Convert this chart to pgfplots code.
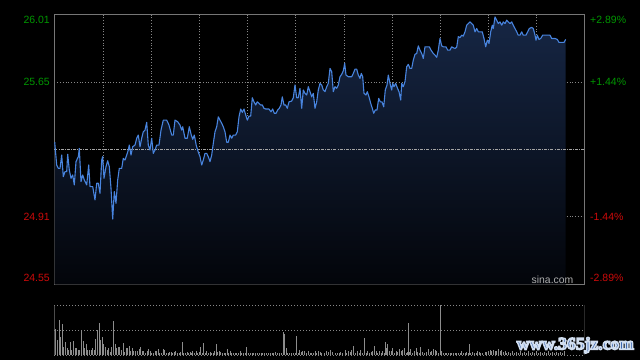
\documentclass[border=0pt]{standalone}
\usepackage{pgfplots}
\pgfplotsset{compat=1.18}
\usepackage{pgfplotstable}
\usepgfplotslibrary{fillbetween}
\usepackage{fontspec}
\setmainfont{Liberation Sans}
\newfontfamily\wmfont{Liberation Serif}

\definecolor{bordergray}{RGB}{118,118,118}
\definecolor{gridgray}{RGB}{135,135,135}
\definecolor{dashgray}{RGB}{165,165,165}
\definecolor{upgreen}{RGB}{0,150,0}
\definecolor{downred}{RGB}{205,10,10}
\definecolor{linecol}{RGB}{72,132,222}
\definecolor{filltop}{RGB}{22,38,68}
\definecolor{fillbot}{RGB}{3,5,10}
\definecolor{volgray}{RGB}{140,140,140}
\definecolor{sinagray}{RGB}{175,175,175}
\definecolor{wmblue}{RGB}{40,88,170}

\pgfplotstableread{
x y
54.7 25.318
56.7 25.195
58.3 25.177
60.0 25.177
61.7 25.249
63.3 25.132
65.0 25.159
66.7 25.159
67.7 25.253
69.3 25.168
71.0 25.123
72.7 25.141
74.3 25.087
76.0 25.213
78.3 25.240
79.3 25.285
81.0 25.105
82.7 25.141
84.3 25.114
86.7 25.087
88.7 25.195
90.0 25.078
92.7 25.078
95.0 25.006
96.7 25.096
98.3 25.096
100.0 25.042
101.7 25.222
102.7 25.240
104.0 25.123
106.0 25.186
107.7 25.218
109.3 25.186
111.0 25.069
112.7 24.902
114.3 25.051
116.0 24.988
117.7 25.114
119.3 25.177
121.7 25.177
123.3 25.231
125.0 25.222
126.7 25.249
128.3 25.276
129.3 25.303
131.0 25.249
132.7 25.294
135.0 25.303
136.7 25.340
138.3 25.357
140.0 25.294
141.7 25.340
143.3 25.375
145.0 25.384
146.7 25.426
148.3 25.303
150.0 25.276
151.7 25.340
153.3 25.258
155.0 25.276
156.7 25.303
159.0 25.303
161.0 25.384
163.3 25.438
166.7 25.438
169.0 25.411
171.7 25.357
173.3 25.357
175.0 25.438
177.7 25.429
180.0 25.411
181.7 25.384
182.7 25.402
185.0 25.340
187.3 25.340
189.3 25.402
191.3 25.357
192.7 25.334
194.3 25.357
196.3 25.300
198.3 25.265
200.0 25.240
201.7 25.195
203.3 25.222
205.0 25.258
206.7 25.258
208.3 25.240
210.0 25.213
211.7 25.249
213.3 25.312
215.0 25.375
216.7 25.402
218.3 25.456
220.0 25.438
221.7 25.421
223.3 25.402
225.0 25.375
226.7 25.318
228.3 25.318
230.0 25.357
231.7 25.340
233.3 25.357
235.7 25.357
237.3 25.375
239.0 25.456
240.7 25.498
242.3 25.480
244.0 25.498
245.7 25.466
247.3 25.438
249.0 25.460
250.7 25.460
252.3 25.559
254.0 25.537
255.7 25.520
257.3 25.537
259.0 25.529
260.7 25.520
262.3 25.520
264.0 25.502
265.7 25.498
269.0 25.498
271.0 25.483
272.7 25.498
274.3 25.475
276.0 25.475
277.7 25.493
279.3 25.502
281.0 25.520
282.3 25.564
284.0 25.520
285.7 25.520
287.3 25.502
289.0 25.537
291.7 25.541
293.3 25.559
295.0 25.628
296.7 25.559
298.3 25.559
300.0 25.610
301.7 25.502
303.3 25.601
305.0 25.583
306.7 25.574
308.3 25.619
310.0 25.592
311.7 25.564
313.3 25.583
315.0 25.502
316.7 25.537
318.3 25.601
320.0 25.637
321.7 25.628
323.3 25.601
325.0 25.592
326.7 25.619
328.3 25.637
330.0 25.718
331.7 25.700
333.3 25.592
335.0 25.619
336.7 25.610
338.3 25.628
340.0 25.673
341.7 25.686
343.3 25.705
344.7 25.745
346.0 25.682
348.3 25.673
351.7 25.673
353.3 25.691
355.0 25.714
356.7 25.714
358.3 25.682
360.0 25.664
361.3 25.691
362.7 25.673
364.0 25.583
366.0 25.574
367.3 25.592
369.0 25.564
370.7 25.529
372.3 25.502
373.7 25.475
375.3 25.493
377.0 25.493
378.7 25.556
380.3 25.537
382.0 25.537
383.7 25.510
385.3 25.601
387.0 25.628
388.3 25.682
390.0 25.637
391.7 25.601
392.7 25.637
394.0 25.619
395.7 25.637
397.3 25.613
399.0 25.592
400.7 25.547
401.7 25.637
403.3 25.619
405.0 25.646
406.7 25.727
408.3 25.740
410.0 25.718
411.7 25.718
413.3 25.763
415.0 25.794
416.7 25.799
418.3 25.840
420.0 25.817
421.7 25.799
423.3 25.772
425.0 25.835
426.7 25.835
429.3 25.835
431.0 25.817
433.3 25.799
435.0 25.790
436.7 25.778
438.3 25.817
440.0 25.880
441.7 25.840
443.3 25.835
446.0 25.835
447.7 25.817
450.0 25.817
451.7 25.835
453.3 25.830
455.0 25.826
456.7 25.833
458.3 25.890
460.0 25.885
461.7 25.898
463.3 25.893
465.0 25.916
466.7 25.952
468.3 25.961
470.0 25.970
471.7 25.961
473.3 25.952
475.0 25.916
476.7 25.934
478.3 25.916
480.0 25.916
482.3 25.916
484.0 25.880
485.7 25.835
487.3 25.871
489.0 25.853
490.7 25.916
492.3 25.952
493.3 25.934
495.0 25.997
496.7 25.979
498.3 25.961
500.0 25.970
501.7 25.952
503.3 25.970
505.0 25.961
506.7 25.979
508.3 25.970
510.0 25.961
511.7 25.970
513.3 25.952
515.0 25.934
516.7 25.916
518.3 25.898
520.0 25.898
521.7 25.916
523.3 25.898
526.0 25.898
527.7 25.916
529.3 25.934
531.7 25.940
533.3 25.934
535.0 25.898
536.0 25.871
537.3 25.898
539.0 25.875
540.7 25.880
542.7 25.898
545.0 25.898
548.3 25.898
550.0 25.898
551.7 25.880
555.0 25.880
557.3 25.875
559.0 25.859
561.7 25.859
564.0 25.859
565.7 25.875
}\price

\pgfplotstableread{
x v
55.3 25.7
57.3 15
59.3 35
60.3 18.3
62.3 31
63.3 8.3
65.3 13.3
67.3 6.7
68.3 5
70.3 13.3
71.3 5
73.3 14
75.3 6.7
76.3 6.7
78.3 5
79.3 5
81.3 25
83.3 14
84.3 6.7
86.3 10.7
87.3 5
89.3 5
91.3 5
92.3 6.7
94.3 5
95.3 15.7
97.3 25
99.3 31.7
100.3 15
102.3 17.7
103.3 11
105.3 7.7
107.3 5
108.3 6.7
110.3 3.3
111.3 7.7
113.3 34
115.3 10.7
116.3 6.7
118.3 7.7
119.3 7.7
121.3 5
123.3 11.7
124.3 3.3
126.3 6.7
127.3 6.7
129.3 9
130.3 4.3
132.3 6.7
133.3 4
135.3 4
137.3 4
139.3 5.7
140.3 8.3
142.3 4
143.3 4
145.3 2.3
147.3 4
148.3 5.7
150.3 4
151.3 2.3
153.3 2.3
155.3 4
156.3 4
158.3 5.7
159.3 2.3
161.3 2.3
163.3 5.7
164.3 5
166.3 2.3
168.3 2.3
169.3 3.3
171.3 3.3
172.3 2.3
174.3 3.3
175.3 4
177.3 1.7
179.3 1.7
180.3 3.3
182.3 13
183.3 2.3
185.3 1.7
187.3 3.3
188.3 2.3
190.3 3.3
191.3 2.3
192.3 4
194.3 2.3
196.3 4
197.3 2.3
199.3 3.3
200.3 7.7
202.3 2.3
203.3 11.7
205.3 2.3
206.3 4
208.3 2.3
210.3 3.3
211.3 2.3
213.3 2.3
214.3 4
216.3 11
217.3 3.3
219.3 4
220.3 3.3
222.3 2.3
224.3 2.3
225.3 2.3
227.3 5.7
228.3 2.3
230.3 4
231.3 2.3
233.3 1.7
235.3 2.3
236.3 1.7
238.3 2.3
240.3 4
241.3 2.3
243.3 2.3
245.3 2.3
246.3 7.7
248.3 2.3
250.3 1.7
252.3 2.3
253.3 2.3
255.3 1.7
257.3 2.3
259.3 1.7
261.3 1.7
262.3 1.7
264.3 2.3
266.3 1.7
268.3 1.7
270.3 1.7
272.3 1.7
273.3 1.7
275.3 3
277.3 1.7
279.3 1.7
281.3 1.7
283.3 23.3
284.3 21
286.3 6.7
287.3 1.7
289.3 1.7
291.3 2.3
293.3 1.7
295.3 1.7
296.3 19
298.3 1.7
299.3 5
301.3 3.3
302.3 4.3
304.3 4
306.3 1.7
308.3 4
310.3 2.3
311.3 2.3
313.3 2.3
315.3 4
316.3 2.3
318.3 4
320.0 3.3
321.7 2.3
324.0 2.3
326.0 4
328.3 3.3
330.7 5
332.7 3.3
335.0 2.3
337.3 1.7
339.3 2.3
340.7 3.3
342.7 2.3
345.0 5
346.7 2.3
348.3 4
350.0 3.3
351.7 5
353.3 9.3
355.7 2.3
357.3 4
359.3 2.3
360.3 5
362.7 2.3
364.3 16.7
366.0 2.3
367.7 4
369.3 2.3
371.0 3.3
372.7 4
374.3 9.3
376.0 4
377.7 2.3
379.3 4
381.0 2.3
382.7 4
384.3 2.3
385.3 13
386.7 6.7
387.7 10.7
389.3 4
391.0 4
392.7 6.7
394.3 2.3
396.0 4
397.7 3.3
399.3 5.7
401.0 4
402.7 5
404.3 6.7
406.0 2.3
407.3 3.3
408.3 32.3
409.3 3.3
410.7 5.7
412.7 2.3
414.3 4
416.0 6.7
417.3 3.3
419.3 2.3
420.7 8
422.7 3.3
424.0 2.3
426.0 3.3
428.3 5.7
430.0 3.3
431.7 4
433.3 5.7
435.0 5
436.7 4
438.3 2.3
440.3 50
441.7 4
443.3 2.3
445.0 1.7
446.7 2.3
448.3 2.3
450.0 1.7
451.7 1.7
453.3 2.3
455.0 1.7
456.7 1.7
458.3 2.3
460.0 1.7
461.7 4
463.3 2.3
465.0 1.7
466.7 3.3
468.0 2.3
469.3 11
470.7 2.3
472.7 3.3
474.0 2.3
476.0 2.3
477.3 4
479.3 3.3
480.7 2.3
482.7 1.7
485.0 3.3
486.7 3.3
488.3 4
490.0 5
491.7 4
493.3 5
495.0 4
496.7 4
498.3 5.7
500.0 4
501.7 5
503.3 3.3
505.0 4
506.7 2.3
508.3 3.3
510.0 2.3
512.0 4
514.0 2.3
516.0 3.3
518.0 2.3
520.0 4
522.0 2.3
524.0 3.3
526.0 2.3
528.0 4
530.0 2.3
532.0 3.3
534.0 2.3
536.0 4
538.0 2.3
540.0 3.3
542.0 2.3
544.0 3.3
546.0 2.3
548.0 4
550.0 2.3
552.0 3.3
554.0 2.3
556.0 3.3
558.0 2.3
560.0 3.3
562.0 2.3
564.0 4
}\volume

\begin{document}
\begin{tikzpicture}
\path (0,0) rectangle (640bp,360bp);

% main price panel
\begin{axis}[
  set layers, clip=false,
  at={(54.3bp,75.7bp)}, anchor=south west,
  scale only axis, width=530bp, height=270bp,
  xmin=54.3, xmax=584.3, ymin=24.549, ymax=26.011,
  axis line style={draw=bordergray, line width=1bp},
  major tick length=0pt,
  xtick={103.3,151.5,199.6,247.7,295.8,344,392.2,440.3,488.3,536.3},
  xticklabels={},
  xmajorgrids=true,
  ytick={25.979,25.644,24.916,24.586},
  yticklabels={\textcolor{upgreen}{26.01},\textcolor{upgreen}{25.65},\textcolor{downred}{24.91},\textcolor{downred}{24.55}},
  yticklabel style={font=\fontsize{10.5bp}{12bp}\selectfont, inner sep=0pt, xshift=-4.3bp},
  extra y ticks={25.644,24.916},
  extra y tick labels={},
  extra y tick style={ymajorgrids=true},
  grid style={draw=gridgray, line width=0.8bp, dash pattern=on 0.8bp off 2bp},
]
\begin{pgfonlayer}{axis background}
\fill[black] (rel axis cs:-0.10245,-0.28037) rectangle (rel axis cs:1.10509,1.05296);
\end{pgfonlayer}
\addplot[name path=price, draw=none, forget plot] table[x=x,y=y] {\price};
\path[name path=base] (axis cs:54.7,24.549) -- (axis cs:565.7,24.549);
\addplot[top color=filltop, bottom color=fillbot, draw=none, on layer=axis background] fill between[of=price and base];
\addplot[draw=dashgray, line width=0.8bp, dash pattern=on 3bp off 1.2bp on 0.8bp off 1.2bp] coordinates {(54.3,25.28) (584.3,25.28)};
\addplot[draw=linecol, line width=1.1bp, line join=round] table[x=x,y=y] {\price};
\end{axis}

% right-hand percentage labels
\begin{axis}[
  at={(54.3bp,75.7bp)}, anchor=south west,
  scale only axis, width=530bp, height=270bp,
  xmin=54.3, xmax=584.3, ymin=24.549, ymax=26.011,
  axis y line*=right, axis x line=none,
  axis line style={draw=none},
  major tick length=0pt,
  ytick={25.979,25.644,24.916,24.586},
  yticklabels={\textcolor{upgreen}{+2.89\%},\textcolor{upgreen}{+1.44\%},\textcolor{downred}{-1.44\%},\textcolor{downred}{-2.89\%}},
  yticklabel style={font=\fontsize{10.5bp}{12bp}\selectfont, inner sep=0pt, anchor=west, xshift=5.7bp},
]
\addplot[draw=none] coordinates {(54.3,25.28)};
\end{axis}

% volume panel
\begin{axis}[
  at={(54.3bp,5bp)}, anchor=south west,
  scale only axis, width=530bp, height=50bp,
  xmin=54.3, xmax=584.3, ymin=0, ymax=50,
  axis line style={draw=none},
  major tick length=0pt,
  xtick=\empty,
  ytick={0,25,50}, yticklabels={},
  ymajorgrids=true,
  grid style={draw=gridgray, line width=1bp, dash pattern=on 1bp off 2bp},
]
\addplot[ycomb, draw=volgray, line width=1bp, no markers] table[x=x,y=v] {\volume};
\draw[bordergray, line width=1bp] (rel axis cs:0,0) -- (rel axis cs:0,1);
\draw[bordergray, line width=1bp] (rel axis cs:1,0) -- (rel axis cs:1,1);
\end{axis}

% watermarks
\node[text=sinagray, font=\fontsize{10.4bp}{12bp}\selectfont, inner sep=0pt] at (552.5bp,80.7bp) {sina.com};
\node[text=wmblue, inner sep=0pt] at (575.3bp,14.8bp) {\resizebox{117bp}{12bp}{\special{pdf:literal direct 2 Tr 0.9 w 0.82 0.87 0.94 RG}\wmfont\bfseries www.365jz.com\special{pdf:literal direct 0 Tr}}};
\end{tikzpicture}
\end{document}
